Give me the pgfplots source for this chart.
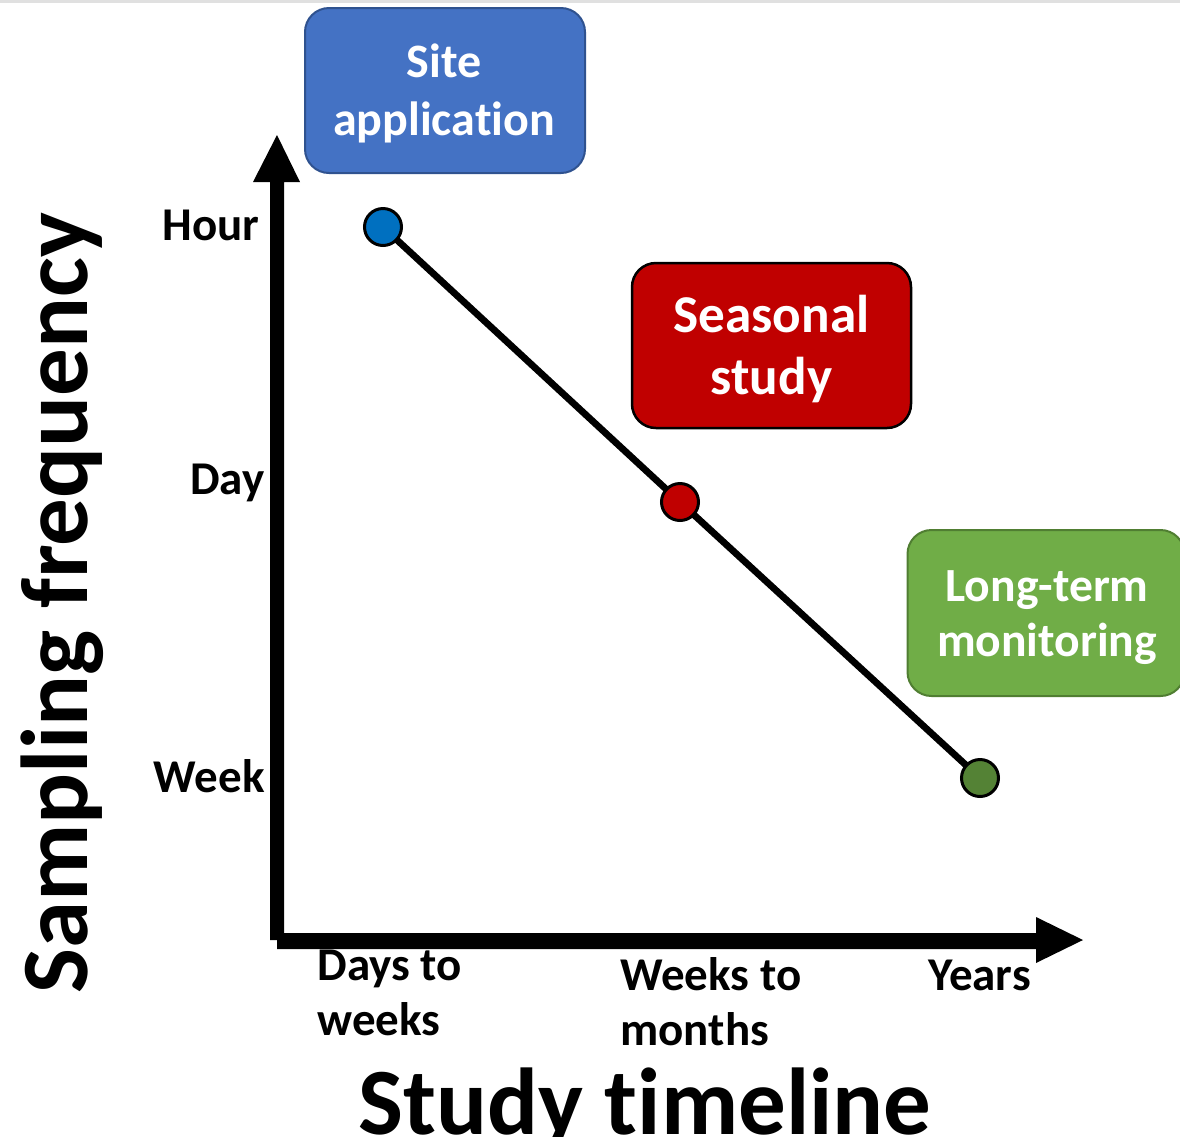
\documentclass[border=0pt]{standalone}
\usepackage{fontspec}
\setmainfont[Ligatures=NoCommon]{Carlito}
\usepackage{pgfplots}
\pgfplotsset{compat=1.18}
\definecolor{boxblue}{HTML}{4472C4}
\definecolor{boxblueedge}{HTML}{2F528F}
\definecolor{boxred}{HTML}{C00000}
\definecolor{boxgreen}{HTML}{70AD47}
\definecolor{boxgreenedge}{HTML}{507E32}
\definecolor{ptblue}{HTML}{0070C0}
\definecolor{ptred}{HTML}{C00000}
\definecolor{ptgreen}{HTML}{548235}
\begin{document}
\begin{tikzpicture}
\begin{axis}[
  at={(0,0)}, anchor=south west,
  width=590pt, height=568.5pt, scale only axis,
  xmin=0, xmax=1180, ymin=0, ymax=1137, y dir=reverse,
  hide axis, clip=false,
]
% faint top edge
\addplot[draw=none, fill=black!12] coordinates {(0,0) (1180,0) (1180,2.5) (0,2.5)} -- cycle;
% axis arrows
\addplot[fill=black, draw=none] coordinates {(270,940) (284,940) (284,182) (300,182) (277,135) (253,182) (270,182)} -- cycle;
\addplot[fill=black, draw=none] coordinates {(277,933) (1036,933) (1036,917) (1083,940) (1036,963) (1036,949) (277,949)} -- cycle;
% line
\addplot[black, line width=3.4pt] coordinates {(383,227) (680,502) (980,778)};
% points
\addplot[only marks, mark=*, mark size=9.25pt, mark options={fill=ptblue, draw=black, line width=1.5pt}] coordinates {(383,227)};
\addplot[only marks, mark=*, mark size=9.25pt, mark options={fill=ptred, draw=black, line width=1.5pt}] coordinates {(680,502)};
\addplot[only marks, mark=*, mark size=9.25pt, mark options={fill=ptgreen, draw=black, line width=1.5pt}] coordinates {(980,778)};

% boxes
\node[draw=boxblueedge, fill=boxblue, line width=1pt, rounded corners=12pt, minimum width=140pt, minimum height=82.5pt, inner sep=0pt] at (axis cs:445,90.5) {};
\node[draw=black, fill=boxred, line width=1.25pt, rounded corners=12pt, minimum width=139.5pt, minimum height=82.5pt, inner sep=0pt] at (axis cs:771.5,345.5) {};
\node[draw=boxgreenedge, fill=boxgreen, line width=1pt, rounded corners=12pt, minimum width=138.5pt, minimum height=83pt, inner sep=0pt] at (axis cs:1046,613) {};

\tikzset{lbl/.style={inner sep=0pt, font=\fontsize{24pt}{28pt}\selectfont\bfseries}}
\node[lbl, text=white, anchor=base] at (axis cs:444,77) {Site};
\node[lbl, text=white, anchor=base] at (axis cs:444,135) {application};
\node[lbl, text=white, anchor=base, font=\fontsize{26.6pt}{30pt}\selectfont\bfseries] at (axis cs:771.5,332) {Seasonal};
\node[lbl, text=white, anchor=base, font=\fontsize{26.6pt}{30pt}\selectfont\bfseries] at (axis cs:771.5,394) {study};
\node[lbl, text=white, anchor=base, font=\fontsize{23.8pt}{28pt}\selectfont\bfseries] at (axis cs:1047,601) {Long-term};
\node[lbl, text=white, anchor=base, font=\fontsize{23.8pt}{28pt}\selectfont\bfseries] at (axis cs:1047,656) {monitoring};

% y tick labels
\tikzset{tk/.style={inner sep=0pt, font=\fontsize{23.5pt}{27pt}\selectfont\bfseries}}
\node[tk, anchor=base east] at (axis cs:260,240) {Hour};
\node[tk, anchor=base east] at (axis cs:265,494) {Day};
\node[tk, anchor=base east] at (axis cs:265,792) {Week};
% x tick labels
\node[tk, anchor=base west] at (axis cs:317,980) {Days to};
\node[tk, anchor=base west] at (axis cs:317,1035) {weeks};
\node[tk, anchor=base west] at (axis cs:620,990) {Weeks to};
\node[tk, anchor=base west] at (axis cs:620,1045) {months};
\node[tk, anchor=base west] at (axis cs:928,990) {Years};

% axis titles
\node[inner sep=0pt, anchor=base, rotate=90, font=\fontsize{47.5pt}{55pt}\selectfont\bfseries] at (axis cs:87,603) {Sampling frequency};
\node[inner sep=0pt, anchor=base, font=\fontsize{47.5pt}{55pt}\selectfont\bfseries] at (axis cs:645,1134) {Study timeline};
\end{axis}
\pgfresetboundingbox
\path (0,0) rectangle (590pt,568.5pt);
\end{tikzpicture}
\end{document}
